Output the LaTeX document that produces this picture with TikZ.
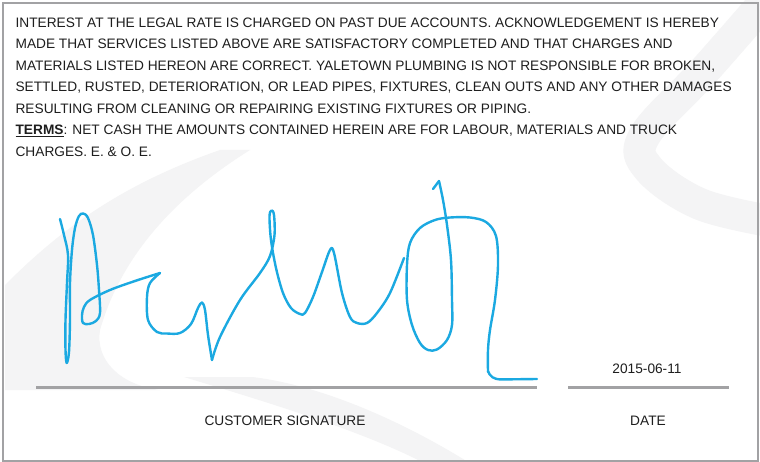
\documentclass[tikz,border=0pt]{standalone}
\usepackage{fontspec}
\setmainfont{Liberation Sans}
\definecolor{framegray}{RGB}{162,162,164}
\definecolor{sigblue}{RGB}{27,169,225}
\definecolor{txt}{RGB}{30,30,30}
\definecolor{bgsw}{RGB}{244,244,245}
\begin{document}
\begin{tikzpicture}[x=1pt,y=-1pt,
  para/.style={anchor=base west, inner sep=0pt, text=txt, font=\fontsize{13.7}{16}\selectfont},
  lbl/.style={anchor=base, inner sep=0pt, text=txt, font=\fontsize{13.7}{16}\selectfont},
  sig/.style={draw=sigblue, line width=2.4pt, line cap=round, line join=round},
  rule/.style={draw=framegray, line width=2.7pt}]
\useasboundingbox[fill=white] (0,0) rectangle (760,462);
% faint background swooshes
\fill[bgsw] (5,285) .. controls (60,230) and (120,185) .. (220,150) -- (250,150)
  .. controls (170,200) and (120,260) .. (100,330) .. controls (95,360) and (120,385) .. (160,390) -- (5,390) -- cycle;
\fill[bgsw] (184,377) .. controls (260,400) and (360,430) .. (422,462) -- (468,462)
  .. controls (400,420) and (320,385) .. (252,377) -- cycle;
\draw[bgsw, line width=32pt, line join=round] plot[smooth, tension=0.6] coordinates {(775,-10) (705,70) (645,135) (648,168) (700,204) (775,222)};
% frame
\draw[framegray, line width=2pt] (3,3) rectangle (758.3,461);
% paragraph
\node[para] (l1) at (15.4,27.3) {INTEREST AT THE LEGAL RATE IS CHARGED ON PAST DUE ACCOUNTS. ACKNOWLEDGEMENT IS HEREBY};
\node[para] (l2) at (15.4,48.8) {MADE THAT SERVICES LISTED ABOVE ARE SATISFACTORY COMPLETED AND THAT CHARGES AND};
\node[para] (l3) at (15.4,70.3) {MATERIALS LISTED HEREON ARE CORRECT. YALETOWN PLUMBING IS NOT RESPONSIBLE FOR BROKEN,};
\node[para] (l4) at (15.4,91.8) {SETTLED, RUSTED, DETERIORATION, OR LEAD PIPES, FIXTURES, CLEAN OUTS AND ANY OTHER DAMAGES};
\node[para] (l5) at (15.4,113.3) {RESULTING FROM CLEANING OR REPAIRING EXISTING FIXTURES OR PIPING.};
\node[para] (l6) at (15.4,134.8) {\underline{\bfseries TERMS}: NET CASH THE AMOUNTS CONTAINED HEREIN ARE FOR LABOUR, MATERIALS AND TRUCK};
\node[para] (l7) at (15.4,156.3) {CHARGES. E. \& O. E.};
% signature
\draw[sig] plot[smooth, tension=0.55] coordinates {(60,219) (64,235) (68,255) (67,283) (65.5,320) (65.5,350) (66.7,363) (69,352) (70,320) (70,283) (72,250) (75,228) (79,216) (83.3,213.5) (88,218) (93,235) (97,265) (99,290) (100,313) (96,321) (89,324) (83,323) (82,315) (84,307) (90,300) (110,290) (135,281) (160,273)};
\draw[sig] plot[smooth, tension=0.55] coordinates {(160,273) (150,283) (147,297) (148,320) (157,332) (167,333.5) (180,333) (191,324) (198,308) (202,302.5) (205,310) (208,335) (212,360)};
\draw[sig] plot[smooth, tension=0.55] coordinates {(212,360) (220,337) (240,300) (260,273) (270,256) (274.5,235) (274,215) (271.7,210.5) (269.5,216) (271,240) (276,268) (283,293) (291,308) (300,314) (305,313) (313,297) (322,272) (330,250) (334,253) (342,293) (350,317) (357,323) (367,323) (377,313) (390,293) (404,258)};
\draw[sig] (433,189) -- (439,181);
\draw[sig] plot[smooth, tension=0.55] coordinates {(439,181) (443,200) (447,225) (451,260) (452,300) (452,325) (447,340) (437,349.5) (428,350) (420,343) (412,325) (407,300) (407,265) (410,243) (420,228) (435,220) (450,217.5) (470,217.5) (486,222) (496,236) (498,265) (495,300) (490,330) (488,350) (488,372)};
\draw[sig, rounded corners=4pt] (488,371) -- (489,375) -- (496,379.5) -- (537,379);
% rules and labels
\draw[rule] (36.4,387.3) -- (537,387.3);
\draw[rule] (568,387.3) -- (728.6,387.3);
\node[lbl] (date) at (647,373.3) {2015-06-11};
\node[lbl] (cs) at (285,425) {CUSTOMER SIGNATURE};
\node[lbl] (dl) at (648,425) {DATE};
\end{tikzpicture}
\end{document}
